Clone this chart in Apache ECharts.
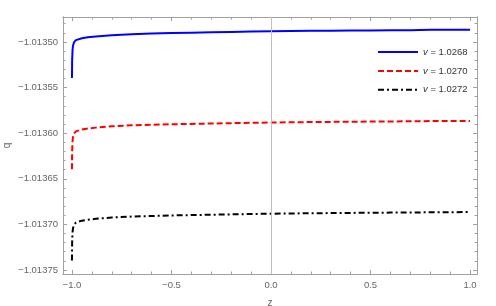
<!DOCTYPE html>
<html><head><meta charset="utf-8">
<script src="https://cdn.jsdelivr.net/npm/echarts@6/dist/echarts.min.js"></script>
<style>html,body{margin:0;padding:0;background:#fff}#c{width:496px;height:306px}</style>
</head><body><div id="c"></div>
<script>
const zVals = [-1, -0.999, -0.997, -0.995, -0.99, -0.985, -0.98, -0.97, -0.95, -0.92, -0.88, -0.8, -0.7, -0.6, -0.5, -0.4, -0.3, -0.2, -0.1, 0, 0.1, 0.2, 0.3, 0.4, 0.5, 0.6, 0.7, 0.8, 0.9, 1];
const q1 = [-1.0135395, -1.0135197, -1.0135088, -1.0135044, -1.0135005, -1.0134989, -1.0134980, -1.0134971, -1.0134959, -1.0134948, -1.0134939, -1.0134925, -1.0134914, -1.0134908, -1.0134902, -1.0134898, -1.0134894, -1.0134890, -1.0134886, -1.0134883, -1.0134880, -1.0134878, -1.0134876, -1.0134874, -1.0134873, -1.0134871, -1.0134870, -1.0134867, -1.0134866, -1.0134865];
const q2 = [-1.0136395, -1.0136197, -1.0136088, -1.0136044, -1.0136005, -1.0135989, -1.0135980, -1.0135971, -1.0135959, -1.0135948, -1.0135939, -1.0135925, -1.0135914, -1.0135908, -1.0135902, -1.0135898, -1.0135894, -1.0135890, -1.0135886, -1.0135883, -1.0135880, -1.0135878, -1.0135876, -1.0135874, -1.0135873, -1.0135871, -1.0135870, -1.0135867, -1.0135866, -1.0135865];
const q3 = [-1.0137395, -1.0137197, -1.0137088, -1.0137044, -1.0137005, -1.0136989, -1.0136980, -1.0136971, -1.0136959, -1.0136948, -1.0136939, -1.0136925, -1.0136914, -1.0136908, -1.0136902, -1.0136898, -1.0136894, -1.0136890, -1.0136886, -1.0136883, -1.0136880, -1.0136878, -1.0136876, -1.0136874, -1.0136873, -1.0136871, -1.0136870, -1.0136867, -1.0136866, -1.0136865];
const seriesNames = ['1.0268', '1.0270', '1.0272'];
const xMajor = [-1, -0.5, 0, 0.5, 1];
const xMinor = [-0.9, -0.8, -0.7, -0.6, -0.4, -0.3, -0.2, -0.1, 0.1, 0.2, 0.3, 0.4, 0.6, 0.7, 0.8, 0.9];
const yMajor = [-1.0135, -1.01355, -1.0136, -1.01365, -1.0137, -1.01375];
const yMinor = [-1.01348, -1.01349, -1.01351, -1.01352, -1.01353, -1.01354, -1.01356, -1.01357, -1.01358, -1.01359, -1.01361, -1.01362, -1.01363, -1.01364, -1.01366, -1.01367, -1.01368, -1.01369, -1.01371, -1.01372, -1.01373, -1.01374];

const XMIN = -1.045, XMAX = 1.035, YMIN = -1.0137544, YMAX = -1.0134726;
const frameColor = '#a0a0a0';
const FONT = 'Liberation Sans';
const fmtMinus = s => s.replace('-', '\u2212');

function xAx(pos, major, show) {
  return {
    type: 'value', position: pos, min: XMIN, max: XMAX, splitLine: {show: false},
    axisLine: {show: true, onZero: false, lineStyle: {color: frameColor, width: 1}},
    axisTick: {show: true, inside: true, length: major ? 4 : 2.5, customValues: major ? xMajor : xMinor, lineStyle: {color: frameColor}},
    axisLabel: {show: show, customValues: xMajor, margin: 6, color: '#666', fontSize: 9.5, fontFamily: FONT,
      formatter: v => fmtMinus(v.toFixed(1))},
    name: show ? 'z' : '', nameLocation: 'middle', nameGap: 24, nameMoveOverlap: false,
    nameTextStyle: {color: '#666', fontSize: 10, fontFamily: FONT}
  };
}
function yAx(pos, major, show) {
  return {
    type: 'value', position: pos, min: YMIN, max: YMAX, scale: true, splitLine: {show: false},
    axisLine: {show: true, onZero: false, lineStyle: {color: frameColor, width: 1}},
    axisTick: {show: true, inside: true, length: major ? 4 : 2.5, customValues: major ? yMajor : yMinor, lineStyle: {color: frameColor}},
    axisLabel: {show: show, customValues: yMajor, margin: 5, color: '#666', fontSize: 9.5, fontFamily: FONT,
      formatter: v => fmtMinus(v.toFixed(5))},
    name: show ? 'q' : '', nameLocation: 'middle', nameGap: 51, nameRotate: 90, nameMoveOverlap: false,
    nameTextStyle: {color: '#666', fontSize: 10, fontFamily: FONT}
  };
}

const mk = arr => zVals.map((z, i) => [z, arr[i]]);
const chart = echarts.init(document.getElementById('c'), null, {renderer: 'canvas'});
chart.setOption({
  animation: false,
  backgroundColor: '#fff',
  grid: {left: 63, right: 19, top: 17, bottom: 32, containLabel: false, outerBoundsMode: 'none'},
  xAxis: [xAx('bottom', true, true), xAx('bottom', false, false), xAx('top', true, false), xAx('top', false, false)],
  yAxis: [yAx('left', true, true), yAx('left', false, false), yAx('right', true, false), yAx('right', false, false)],
  legend: {
    orient: 'vertical', left: 377, top: 47, padding: 0, itemWidth: 40, itemHeight: 12, itemGap: 8.9,
    itemStyle: {opacity: 0},
    textStyle: {color: '#333', fontSize: 9.5, fontFamily: FONT, rich: {i: {fontStyle: 'italic', fontSize: 9.5, fontFamily: FONT, color: '#333'}}},
    formatter: name => '{i|v} = ' + name,
    data: seriesNames
  },
  series: [
    {name: seriesNames[0], type: 'line', data: mk(q1), symbol: 'none', smooth: false,
      lineStyle: {color: '#0000ff', width: 2}, itemStyle: {color: '#0000ff'},
      markLine: {silent: true, symbol: 'none', label: {show: false}, lineStyle: {color: '#c0c0c0', width: 1, type: 'solid'}, data: [{xAxis: 0}]}},
    {name: seriesNames[1], type: 'line', data: mk(q2), symbol: 'none',
      lineStyle: {color: '#ff0000', width: 2, type: [6, 3]}, itemStyle: {color: '#ff0000'}},
    {name: seriesNames[2], type: 'line', data: mk(q3), symbol: 'none',
      lineStyle: {color: '#000000', width: 2, type: [6, 3, 2, 3]}, itemStyle: {color: '#000000'}}
  ]
});
</script></body></html>
